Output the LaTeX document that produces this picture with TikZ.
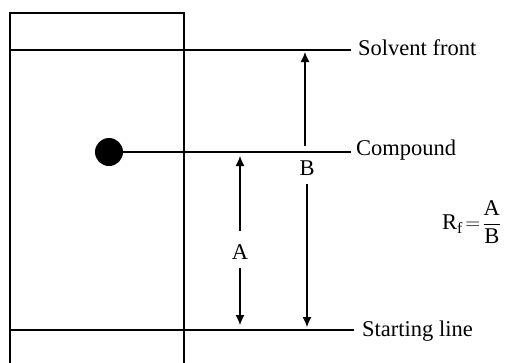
\documentclass[tikz,border=0pt]{standalone}
\usepackage{fontspec}
\usepackage{amsmath}
\setmainfont{Liberation Serif}
\usetikzlibrary{arrows.meta}
\begin{document}
\begin{tikzpicture}[x=1pt,y=-1pt,
  ln/.style={line width=1.2pt},
  arr/.style={ln,-{Latex[length=10pt,width=9pt]}},
  lab/.style={font=\fontsize{22.5}{27}\selectfont,inner sep=0pt},
  dimlab/.style={font=\fontsize{22.5}{27}\selectfont,inner sep=3pt}]
\useasboundingbox (0,0) rectangle (508,362);
% plate
\draw[ln] (10,363) -- (10,13) -- (184,13) -- (184,363);
% labels
\node[lab,anchor=base west] (sf) at (358,55) {Solvent front};
\node[lab,anchor=base west] (cp) at (356,155) {Compound};
\node[lab,anchor=base west] (sl) at (362,336) {Starting line};
% lines
\coordinate (sfL) at (10,50);
\coordinate (sfR) at (351,50);
\draw[ln] (sfL) -- (sfR);
\node[circle,fill=black,minimum size=28pt,inner sep=0pt] (dot) at (109,152) {};
\coordinate (cpR) at (351,152);
\draw[ln] (dot.east) -- (cpR);
\coordinate (slL) at (10,330);
\coordinate (slR) at (354,330);
\draw[ln] (slL) -- (slR);
% B arrow
\node[dimlab] (B) at (307,168) {B};
\coordinate (Btop) at (305,52);
\coordinate (Bbot) at (307,327);
\draw[arr] (305,146) -- (Btop);
\draw[arr] (307,184) -- (Bbot);
% A arrow
\node[dimlab] (A) at (240,252) {A};
\coordinate (Atop) at (240,156);
\coordinate (Abot) at (240,325);
\draw[arr] (240,231) -- (Atop);
\draw[arr] (240,268) -- (Abot);
% formula
\node[lab,anchor=west] (rf) at (442,222) {$\text{R}_{\text{f}}\!=\!\dfrac{\text{A}}{\text{B}}$};
\end{tikzpicture}
\end{document}
